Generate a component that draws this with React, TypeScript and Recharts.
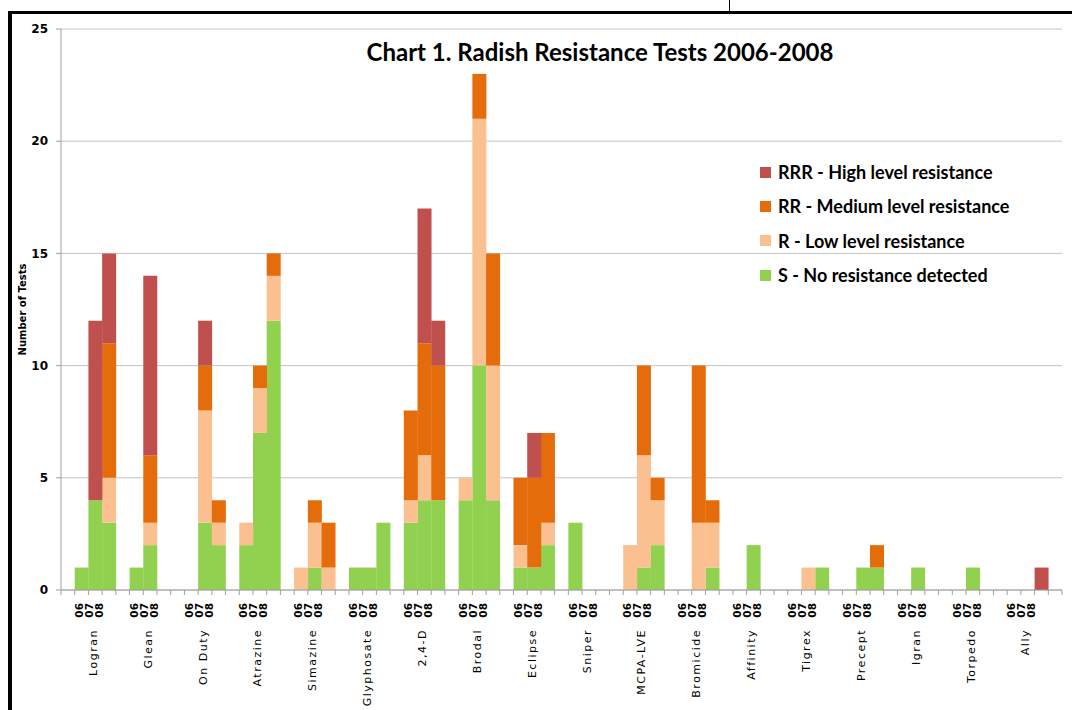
import React from "react";
import { BarChart, Bar, XAxis, YAxis, CartesianGrid, Legend } from "recharts";

const herbicides = [
  "Logran", "Glean", "On Duty", "Atrazine", "Simazine", "Glyphosate", "2,4-D", "Brodal", "Eclipse",
  "Sniper", "MCPA-LVE", "Bromicide", "Affinity", "Tigrex", "Precept", "Igran", "Torpedo", "Ally",
];
const years = ["06", "07", "08"];

// number of tests per herbicide, [06, 07, 08]
const noResistance = [
  [1, 4, 3], [1, 2, 0], [0, 3, 2], [2, 7, 12], [0, 1, 0], [1, 1, 3], [3, 4, 4], [4, 10, 4], [1, 1, 2],
  [3, 0, 0], [0, 1, 2], [0, 0, 1], [0, 2, 0], [0, 0, 1], [0, 1, 1], [0, 1, 0], [0, 1, 0], [0, 0, 0],
];
const lowResistance = [
  [0, 0, 2], [0, 1, 0], [0, 5, 1], [1, 2, 2], [1, 2, 1], [0, 0, 0], [1, 2, 0], [1, 11, 6], [1, 0, 1],
  [0, 0, 0], [2, 5, 2], [0, 3, 2], [0, 0, 0], [0, 1, 0], [0, 0, 0], [0, 0, 0], [0, 0, 0], [0, 0, 0],
];
const mediumResistance = [
  [0, 0, 6], [0, 3, 0], [0, 2, 1], [0, 1, 1], [0, 1, 2], [0, 0, 0], [4, 5, 6], [0, 2, 5], [3, 4, 4],
  [0, 0, 0], [0, 4, 1], [0, 7, 1], [0, 0, 0], [0, 0, 0], [0, 0, 1], [0, 0, 0], [0, 0, 0], [0, 0, 0],
];
const highResistance = [
  [0, 8, 4], [0, 8, 0], [0, 2, 0], [0, 0, 0], [0, 0, 0], [0, 0, 0], [0, 6, 2], [0, 0, 0], [0, 2, 0],
  [0, 0, 0], [0, 0, 0], [0, 0, 0], [0, 0, 0], [0, 0, 0], [0, 0, 0], [0, 0, 0], [0, 0, 0], [0, 0, 1],
];

const yTicks = [0, 5, 10, 15, 20, 25];
const legendOrder = ["RRR", "RR", "R", "S"];

const COLORS = { RRR: "#c0504d", RR: "#e46c0a", R: "#fac090", S: "#92d050" };
const AXIS = "#a0a0a0";

const W = 1072;
const H = 710;
const Y_AXIS_W = 61;
const RIGHT = 10;
const TOP = 29;
const X_AXIS_H = 120;

// one empty slot before each herbicide's three years, one at the end
const data: any[] = [];
herbicides.forEach((name, g) => {
  data.push({ slot: `${name}-gap` });
  years.forEach((yr, k) => {
    data.push({
      slot: `${name}-${yr}`,
      S: noResistance[g][k],
      R: lowResistance[g][k],
      RR: mediumResistance[g][k],
      RRR: highResistance[g][k],
    });
  });
});
data.push({ slot: "end" });

const SLOT = (W - Y_AXIS_W - RIGHT) / data.length;

const XTick = (props: any) => {
  const { x, y, index } = props;
  const left = x - SLOT / 2;
  const last = index === data.length - 1;
  const g = Math.floor(index / 4);
  const showLabel = index % 4 === 2 && g < herbicides.length;
  return (
    <g>
      <line x1={left} x2={left} y1={y} y2={y + 5} stroke={AXIS} />
      {last && <line x1={x + SLOT / 2} x2={x + SLOT / 2} y1={y} y2={y + 5} stroke={AXIS} />}
      {showLabel && (
        <g>
          <g transform={`translate(${left}, ${y + 13}) rotate(-90)`}>
            {years.map((yr, k) => (
              <text
                key={yr}
                x={0}
                y={(k - 1) * 10 + 0.5}
                textAnchor="end"
                dominantBaseline="central"
                fontFamily="DejaVu Sans"
                fontWeight={700}
                fontSize={10.5}
                fill="#000"
              >
                {yr}
              </text>
            ))}
          </g>
          <g transform={`translate(${left + 5}, ${y + 39}) rotate(-90)`}>
            <text
              x={0}
              y={0}
              textAnchor="end"
              dominantBaseline="central"
              fontFamily="DejaVu Sans"
              fontSize={11}
              letterSpacing={1.5}
              fill="#000"
            >
              {herbicides[g]}
            </text>
          </g>
        </g>
      )}
    </g>
  );
};

const LegendBox = ({ payload }: any) => {
  const items = [...(payload || [])].sort(
    (a: any, b: any) => legendOrder.indexOf(a.dataKey) - legendOrder.indexOf(b.dataKey)
  );
  return (
    <div style={{ fontFamily: "Lato", fontWeight: 700, fontSize: 18, color: "#000" }}>
      {items.map((item: any) => (
        <div key={item.value} style={{ display: "flex", alignItems: "center", height: 34.3 }}>
          <span style={{ width: 11, height: 11, background: item.color, marginRight: 7, display: "inline-block" }} />
          <span>{item.value}</span>
        </div>
      ))}
    </div>
  );
};

export default function App() {
  return (
    <div style={{ position: "fixed", left: 0, top: 0, width: W, height: H, background: "#fff", overflow: "hidden" }}>
      <BarChart
        width={W}
        height={H}
        data={data}
        margin={{ top: TOP, right: RIGHT, left: 0, bottom: 0 }}
        barCategoryGap={0}
        barGap={0}
      >
        <CartesianGrid vertical={false} stroke="#c4c4c4" />
        <XAxis
          dataKey="slot"
          height={X_AXIS_H}
          interval={0}
          tickLine={false}
          tickSize={0}
          tickMargin={0}
          stroke={AXIS}
          tick={<XTick />}
        />
        <YAxis
          width={Y_AXIS_W}
          domain={[0, 25]}
          ticks={yTicks}
          allowDecimals={false}
          stroke={AXIS}
          tickSize={5}
          tickMargin={8}
          tick={{ fill: "#000", fontSize: 12, fontWeight: 700, fontFamily: "DejaVu Sans" }}
          label={{
            value: "Number of Tests",
            angle: -90,
            position: "center",
            dx: -8,
            style: { fontFamily: "DejaVu Sans", fontWeight: 700, fontSize: 10, fill: "#000" },
          }}
        />
        <Legend
          layout="vertical"
          align="center"
          verticalAlign="middle"
          content={<LegendBox />}
          wrapperStyle={{ left: 760, top: 155, width: 300 }}
        />
        <Bar dataKey="S" name="S - No resistance detected" stackId="t" fill={COLORS.S} isAnimationActive={false} />
        <Bar dataKey="R" name="R - Low level resistance" stackId="t" fill={COLORS.R} isAnimationActive={false} />
        <Bar dataKey="RR" name="RR - Medium level resistance" stackId="t" fill={COLORS.RR} isAnimationActive={false} />
        <Bar dataKey="RRR" name="RRR - High level resistance" stackId="t" fill={COLORS.RRR} isAnimationActive={false} />
      </BarChart>
      <div
        style={{
          position: "absolute",
          left: 300,
          width: 600,
          top: 37,
          textAlign: "center",
          fontFamily: "Lato",
          fontWeight: 700,
          fontSize: 24,
          color: "#000",
        }}
      >
        Chart 1. Radish Resistance Tests 2006-2008
      </div>
      <div style={{ position: "absolute", left: 8, top: 11, width: W - 8, height: 3, background: "#000" }} />
      <div style={{ position: "absolute", left: 8, top: 11, width: 4, height: H - 11, background: "#000" }} />
      <div style={{ position: "absolute", left: 729, top: 0, width: 1, height: 12, background: "#000" }} />
    </div>
  );
}
